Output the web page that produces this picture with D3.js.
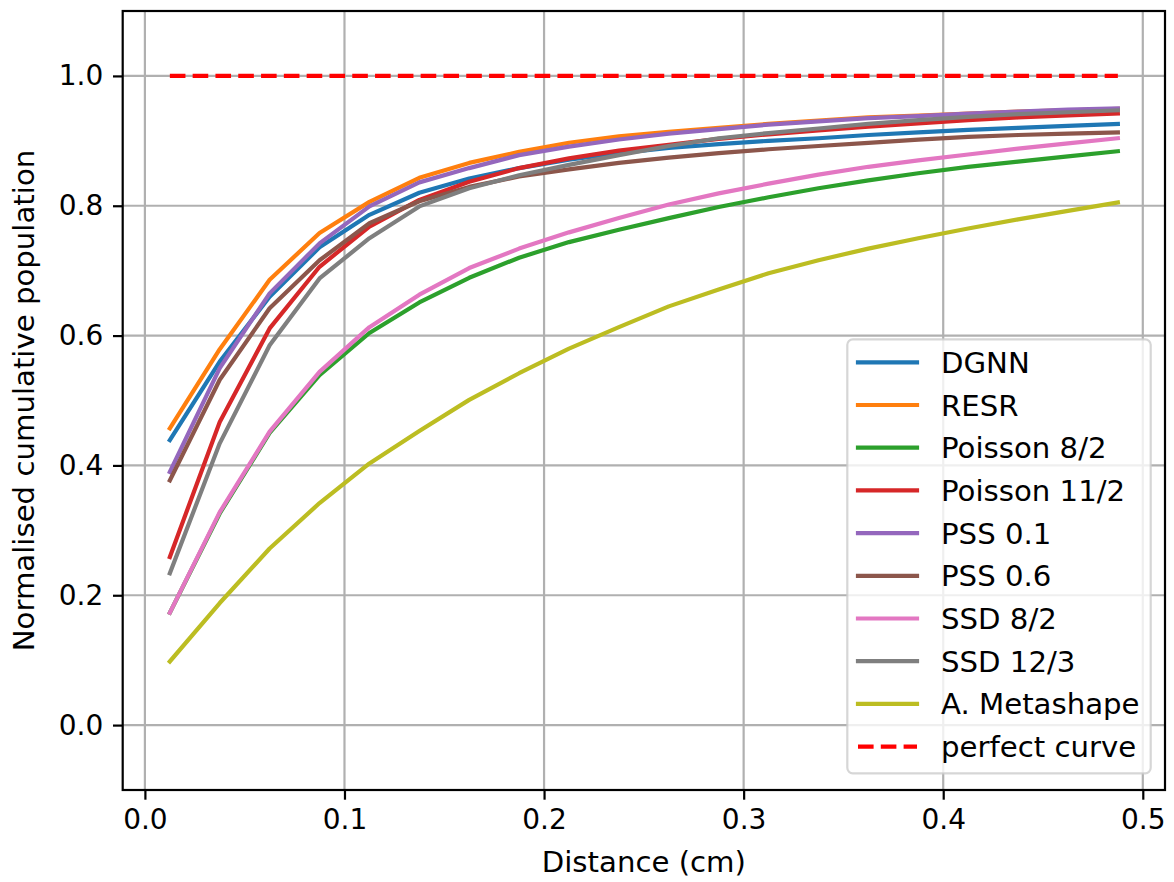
<!DOCTYPE html>
<html>
<head>
<meta charset="utf-8">
<script src="https://cdn.jsdelivr.net/npm/d3@7"></script>
<style>
  body { margin: 0; background: #fff; }
  svg text { font-family: "DejaVu Sans", sans-serif; fill: #000; }
</style>
</head>
<body>
<div class="container"></div>
<script>
// x positions (cm)
var distances = [0.0125, 0.0375, 0.0625, 0.0875, 0.1125, 0.1375, 0.1625, 0.1875, 0.2125, 0.2375,
                 0.2625, 0.2875, 0.3125, 0.3375, 0.3625, 0.3875, 0.4125, 0.4375, 0.4625, 0.4875];

var dgnn       = [0.439, 0.560, 0.660, 0.736, 0.786, 0.820, 0.842, 0.858, 0.871, 0.881, 0.889, 0.895, 0.900, 0.904, 0.909, 0.913, 0.917, 0.920, 0.923, 0.926];
var resr       = [0.457, 0.579, 0.686, 0.758, 0.806, 0.843, 0.866, 0.883, 0.897, 0.907, 0.914, 0.920, 0.926, 0.931, 0.936, 0.939, 0.942, 0.945, 0.947, 0.949];
var poisson82  = [0.173, 0.326, 0.450, 0.539, 0.604, 0.651, 0.689, 0.720, 0.744, 0.763, 0.781, 0.798, 0.813, 0.827, 0.839, 0.850, 0.860, 0.868, 0.876, 0.884];
var poisson112 = [0.259, 0.467, 0.611, 0.706, 0.768, 0.809, 0.837, 0.858, 0.873, 0.885, 0.894, 0.903, 0.910, 0.916, 0.922, 0.927, 0.932, 0.936, 0.939, 0.942];
var pss01      = [0.390, 0.550, 0.665, 0.742, 0.799, 0.836, 0.858, 0.878, 0.891, 0.902, 0.911, 0.918, 0.925, 0.930, 0.935, 0.938, 0.942, 0.945, 0.948, 0.950];
var pss06      = [0.377, 0.532, 0.642, 0.716, 0.773, 0.807, 0.829, 0.845, 0.856, 0.866, 0.874, 0.881, 0.887, 0.892, 0.897, 0.902, 0.906, 0.909, 0.911, 0.913];
var ssd82      = [0.173, 0.328, 0.452, 0.544, 0.613, 0.663, 0.704, 0.734, 0.759, 0.781, 0.802, 0.819, 0.834, 0.848, 0.860, 0.870, 0.879, 0.888, 0.896, 0.904];
var ssd123     = [0.234, 0.434, 0.585, 0.688, 0.750, 0.799, 0.827, 0.847, 0.863, 0.878, 0.892, 0.904, 0.912, 0.919, 0.926, 0.932, 0.937, 0.941, 0.944, 0.947];
var metashape  = [0.098, 0.188, 0.272, 0.342, 0.403, 0.453, 0.501, 0.542, 0.580, 0.613, 0.645, 0.671, 0.696, 0.716, 0.734, 0.750, 0.765, 0.779, 0.792, 0.805];
var perfect    = [1.0, 1.0];
var perfectX   = [0.0125, 0.4875];

var seriesNames = ["DGNN", "RESR", "Poisson 8/2", "Poisson 11/2", "PSS 0.1", "PSS 0.6", "SSD 8/2", "SSD 12/3", "A. Metashape", "perfect curve"];
var seriesColors = ["#1f77b4", "#ff7f0e", "#2ca02c", "#d62728", "#9467bd", "#8c564b", "#e377c2", "#7f7f7f", "#bcbd22", "#ff0000"];

var xTicks = [0.0, 0.1, 0.2, 0.3, 0.4, 0.5];
var yTicks = [0.0, 0.2, 0.4, 0.6, 0.8, 1.0];
var xDomain = [-0.011125, 0.511125];
var yDomain = [-0.1, 1.1];

var svgWidth = 1174;
var svgHeight = 882;
var plot = { left: 122.7, right: 1165, top: 11, bottom: 790 };
var tickFont = 28;
var labelFont = 29.2;

var svg = d3.select(".container")
    .append("svg")
    .attr("width", svgWidth)
    .attr("height", svgHeight);

var x = d3.scaleLinear().domain(xDomain).range([plot.left, plot.right]);
var y = d3.scaleLinear().domain(yDomain).range([plot.bottom, plot.top]);

// grid
var grid = svg.append("g");
grid.selectAll(".vgrid").data(xTicks).enter().append("line")
    .attr("x1", d => x(d)).attr("x2", d => x(d))
    .attr("y1", plot.top).attr("y2", plot.bottom)
    .attr("stroke", "#b0b0b0").attr("stroke-width", 2.2);
grid.selectAll(".hgrid").data(yTicks).enter().append("line")
    .attr("x1", plot.left).attr("x2", plot.right)
    .attr("y1", d => y(d)).attr("y2", d => y(d))
    .attr("stroke", "#b0b0b0").attr("stroke-width", 2.2);

// lines
var allSeries = [dgnn, resr, poisson82, poisson112, pss01, pss06, ssd82, ssd123, metashape];
var line = d3.line()
    .x((d, i) => x(distances[i]))
    .y(d => y(d));

svg.append("defs").append("clipPath").attr("id", "clip")
  .append("rect")
    .attr("x", plot.left).attr("y", plot.top)
    .attr("width", plot.right - plot.left).attr("height", plot.bottom - plot.top);

var lines = svg.append("g").attr("clip-path", "url(#clip)");
allSeries.forEach(function(values, k) {
    lines.append("path")
        .datum(values)
        .attr("d", line)
        .attr("fill", "none")
        .attr("stroke", seriesColors[k])
        .attr("stroke-width", 4.2)
        .attr("stroke-linejoin", "round")
        .attr("stroke-linecap", "square");
});

lines.append("path")
    .datum(perfect)
    .attr("d", d3.line().x((d, i) => x(perfectX[i])).y(d => y(d)))
    .attr("fill", "none")
    .attr("stroke", seriesColors[9])
    .attr("stroke-width", 4.2)
    .attr("stroke-dasharray", "15.6,7.2");

// axes
var bottomAxis = d3.axisBottom(x).tickValues(xTicks).tickFormat(d3.format(".1f")).tickSize(9.7).tickPadding(9.7);
var leftAxis = d3.axisLeft(y).tickValues(yTicks).tickFormat(d3.format(".1f")).tickSize(9.7).tickPadding(9.7);

var gx = svg.append("g")
    .attr("transform", `translate(0, ${plot.bottom})`)
    .call(bottomAxis);
var gy = svg.append("g")
    .attr("transform", `translate(${plot.left}, 0)`)
    .call(leftAxis);

[gx, gy].forEach(function(g) {
    g.select(".domain").remove();
    g.selectAll(".tick line").attr("stroke", "#000").attr("stroke-width", 2.2);
    g.selectAll(".tick text")
        .style("font-size", tickFont + "px")
        .style("font-family", "'DejaVu Sans', sans-serif")
        .attr("fill", "#000");
});

// frame
svg.append("rect")
    .attr("x", plot.left).attr("y", plot.top)
    .attr("width", plot.right - plot.left).attr("height", plot.bottom - plot.top)
    .attr("fill", "none").attr("stroke", "#000").attr("stroke-width", 2.2);

// axis labels
svg.append("text")
    .attr("x", (plot.left + plot.right) / 2)
    .attr("y", 872)
    .attr("text-anchor", "middle")
    .style("font-size", labelFont + "px")
    .text("Distance (cm)");

svg.append("text")
    .attr("transform", `translate(34, ${(plot.top + plot.bottom) / 2}) rotate(-90)`)
    .attr("text-anchor", "middle")
    .style("font-size", labelFont + "px")
    .text("Normalised cumulative population");

// legend
var legendBox = { x: 847.3, y: 339.3, width: 303.4, height: 434 };
var rowHeight = 42.7;
var legend = svg.append("g");

legend.append("rect")
    .attr("x", legendBox.x).attr("y", legendBox.y)
    .attr("width", legendBox.width).attr("height", legendBox.height)
    .attr("rx", 5.5).attr("ry", 5.5)
    .attr("fill", "#fff").attr("fill-opacity", 0.8)
    .attr("stroke", "#cccccc").attr("stroke-opacity", 0.8).attr("stroke-width", 2.2);

var rows = legend.selectAll(".row")
    .data(seriesNames)
    .enter()
    .append("g")
    .attr("transform", (d, i) => `translate(0, ${legendBox.y + 23 + i * rowHeight})`);

rows.append("line")
    .attr("x1", 858).attr("x2", 917)
    .attr("y1", 0).attr("y2", 0)
    .attr("stroke", (d, i) => seriesColors[i])
    .attr("stroke-width", 4.2)
    .attr("stroke-linecap", (d, i) => i === 9 ? "butt" : "square")
    .attr("stroke-dasharray", (d, i) => i === 9 ? "15.6,7.2" : null);

rows.append("text")
    .attr("x", 941)
    .attr("y", 0)
    .attr("dy", "0.36em")
    .style("font-size", labelFont + "px")
    .text(d => d);
</script>
</body>
</html>
